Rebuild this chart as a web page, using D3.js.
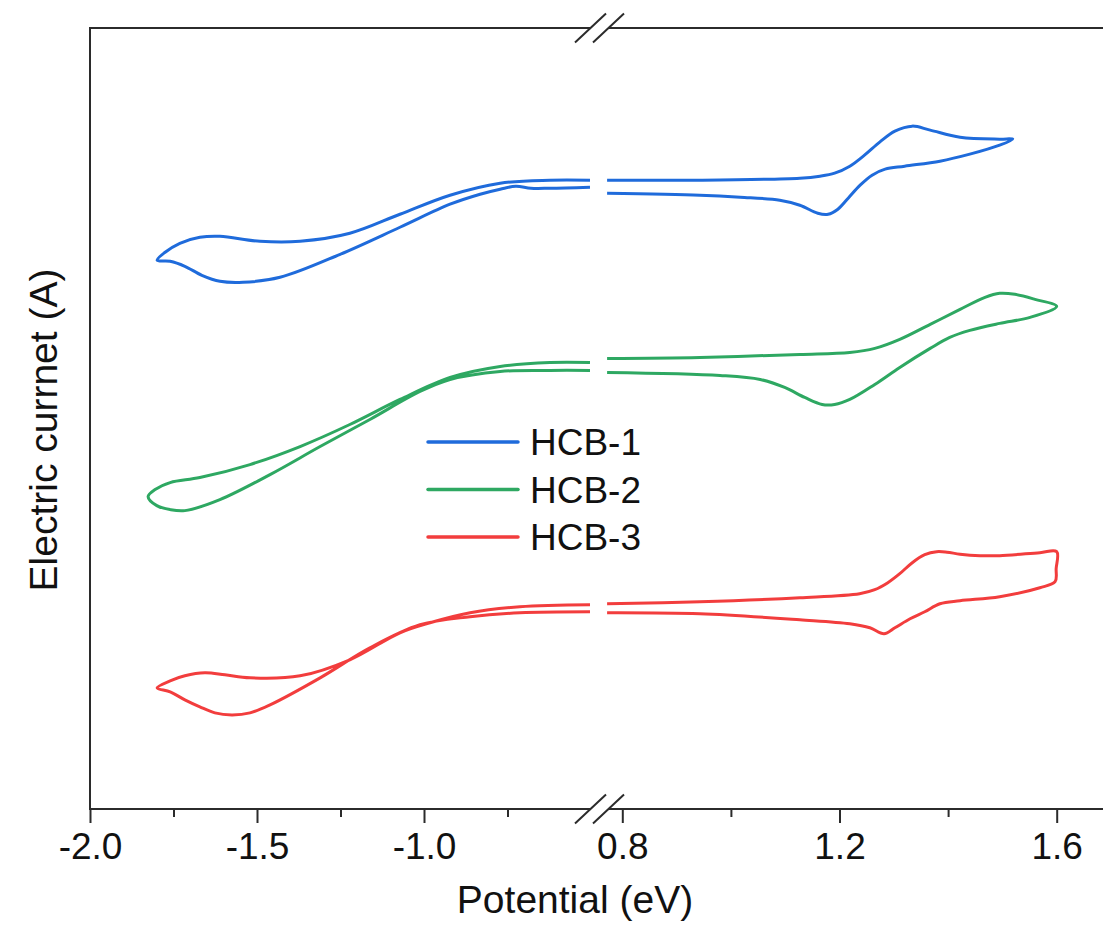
<!DOCTYPE html>
<html>
<head>
<meta charset="utf-8">
<script src="https://cdn.jsdelivr.net/npm/d3@7/dist/d3.min.js"></script>
<style>
  html, body { margin: 0; padding: 0; background: #fff; }
  svg { display: block; font-family: "Liberation Sans", Arial, sans-serif; }
</style>
</head>
<body>
<svg id="chart" width="1103" height="927"></svg>
<script>
// Cyclic voltammograms, potential (eV) vs current (a.u.), each loop split by the axis break.
const seriesNames = ["HCB-1", "HCB-2", "HCB-3"];
const seriesColors = ["#1f6bdb", "#2ea862", "#f23d3d"];

// Negative-potential window: break end -> turning point -> break end
const hcb1Low = [[-0.503,6.28],[-0.623,6.28],[-0.772,6.25],[-0.922,6.13],[-1.072,5.94],[-1.222,5.75],[-1.371,5.67],[-1.491,5.67],[-1.611,5.72],[-1.671,5.71],[-1.731,5.65],[-1.775,5.56],[-1.799,5.48],[-1.760,5.47],[-1.716,5.42],[-1.665,5.33],[-1.611,5.27],[-1.542,5.26],[-1.431,5.31],[-1.251,5.54],[-1.072,5.81],[-0.922,6.04],[-0.832,6.14],[-0.772,6.19],[-0.725,6.22],[-0.680,6.20],[-0.623,6.20],[-0.503,6.21]];
const hcb2Low = [[-0.503,4.46],[-0.623,4.46],[-0.772,4.42],[-0.922,4.31],[-1.072,4.09],[-1.222,3.84],[-1.371,3.62],[-1.521,3.44],[-1.671,3.31],[-1.760,3.26],[-1.805,3.19],[-1.826,3.12],[-1.800,3.03],[-1.760,2.99],[-1.716,2.98],[-1.611,3.09],[-1.461,3.34],[-1.311,3.62],[-1.162,3.89],[-1.012,4.17],[-0.922,4.29],[-0.772,4.37],[-0.623,4.38],[-0.503,4.38]];
const hcb3Low = [[-0.503,2.04],[-0.713,2.02],[-0.862,1.96],[-0.982,1.86],[-1.072,1.76],[-1.222,1.49],[-1.371,1.33],[-1.521,1.31],[-1.596,1.34],[-1.656,1.36],[-1.716,1.33],[-1.760,1.28],[-1.799,1.21],[-1.760,1.17],[-1.716,1.09],[-1.671,1.02],[-1.626,0.96],[-1.575,0.94],[-1.521,0.96],[-1.461,1.04],[-1.311,1.31],[-1.162,1.61],[-1.012,1.84],[-0.862,1.92],[-0.713,1.96],[-0.503,1.97]];

// Positive-potential window
const hcb1High = [[0.772,6.28],[0.943,6.28],[1.127,6.30],[1.164,6.32],[1.191,6.35],[1.219,6.42],[1.246,6.53],[1.274,6.66],[1.302,6.77],[1.334,6.82],[1.367,6.78],[1.422,6.71],[1.495,6.69],[1.519,6.69],[1.495,6.63],[1.440,6.54],[1.385,6.47],[1.320,6.42],[1.284,6.39],[1.260,6.33],[1.238,6.23],[1.216,6.10],[1.197,5.99],[1.179,5.94],[1.160,5.95],[1.127,6.03],[1.090,6.08],[1.017,6.11],[0.943,6.13],[0.772,6.15]];
const hcb2High = [[0.772,4.50],[0.943,4.51],[1.127,4.54],[1.219,4.56],[1.265,4.60],[1.311,4.69],[1.367,4.84],[1.422,4.99],[1.468,5.11],[1.495,5.15],[1.523,5.14],[1.560,5.09],[1.600,5.02],[1.551,4.91],[1.495,4.85],[1.440,4.78],[1.403,4.71],[1.367,4.60],[1.311,4.41],[1.265,4.24],[1.219,4.09],[1.191,4.04],[1.168,4.04],[1.136,4.11],[1.099,4.21],[1.054,4.29],[0.980,4.33],[0.772,4.36]];
const hcb3High = [[0.772,2.05],[0.943,2.07],[1.127,2.11],[1.237,2.15],[1.265,2.19],[1.289,2.26],[1.311,2.35],[1.334,2.46],[1.357,2.54],[1.379,2.57],[1.398,2.565],[1.422,2.545],[1.459,2.53],[1.495,2.53],[1.569,2.56],[1.600,2.57],[1.599,2.40],[1.597,2.27],[1.569,2.21],[1.495,2.12],[1.422,2.08],[1.385,2.05],[1.357,1.97],[1.330,1.90],[1.302,1.81],[1.282,1.75],[1.256,1.81],[1.219,1.85],[1.127,1.89],[0.943,1.95],[0.772,1.96]];

const lowMajorTicks = [-2.0, -1.5, -1.0];
const lowMinorTicks = [-1.75, -1.25, -0.75];
const highMajorTicks = [0.8, 1.2, 1.6];
const highMinorTicks = [1.0, 1.4];

const lowSeries = [hcb1Low, hcb2Low, hcb3Low];
const highSeries = [hcb1High, hcb2High, hcb3High];

const svg = d3.select("#chart");
svg.append("rect").attr("width", 1103).attr("height", 927).attr("fill", "#fff");

const plotTop = 28, plotBottom = 809, plotLeft = 90, plotRight = 1103;
const breakA = 590.5, breakB = 608.5;

const xLow = d3.scaleLinear().domain([-2.0, -0.5]).range([plotLeft, 591]);
const xHigh = d3.scaleLinear().domain([0.8, 1.6]).range([622.3, 1056.7]);
const y = d3.scaleLinear().domain([0, 7.8]).range([plotBottom, plotTop]);

const axisColor = "#2b2b2b";
const fmt = d => d.toFixed(1);

// Curves
function drawSeg(data, xs, color) {
  const line = d3.line().x(d => xs(d[0])).y(d => y(d[1])).curve(d3.curveCatmullRom.alpha(0.5));
  svg.append("path").attr("d", line(data)).attr("fill", "none")
    .attr("stroke", color).attr("stroke-width", 3).attr("stroke-linejoin", "round").attr("stroke-linecap", "butt");
}
lowSeries.forEach((s, i) => drawSeg(s, xLow, seriesColors[i]));
highSeries.forEach((s, i) => drawSeg(s, xHigh, seriesColors[i]));

// Axis frame pieces
const frame = svg.append("g").attr("stroke", axisColor).attr("stroke-width", 2).attr("fill", "none");
frame.append("line").attr("x1", plotLeft).attr("x2", plotLeft).attr("y1", plotTop - 1).attr("y2", plotBottom + 1);
[plotTop, plotBottom].forEach(yy => {
  frame.append("line").attr("x1", plotLeft).attr("x2", breakA).attr("y1", yy).attr("y2", yy);
  frame.append("line").attr("x1", breakB).attr("x2", plotRight).attr("y1", yy).attr("y2", yy);
  [breakA, breakB].forEach(bx => {
    frame.append("line").attr("x1", bx - 15.5).attr("y1", yy + 14.5).attr("x2", bx + 15.5).attr("y2", yy - 14.5)
      .attr("stroke-width", 2);
  });
});

// Bottom axes on both sides of the break
function bottomAxis(scale, majors, minors) {
  const gMaj = svg.append("g").attr("transform", `translate(0,${plotBottom})`)
    .call(d3.axisBottom(scale).tickValues(majors).tickFormat(fmt).tickSize(14).tickSizeOuter(0).tickPadding(10));
  gMaj.select(".domain").remove();
  gMaj.selectAll(".tick line").attr("stroke", axisColor).attr("stroke-width", 2);
  gMaj.selectAll(".tick text").attr("fill", "#111").attr("font-size", 37)
    .attr("font-family", "'Liberation Sans', Arial, sans-serif");
  const gMin = svg.append("g").attr("transform", `translate(0,${plotBottom})`)
    .call(d3.axisBottom(scale).tickValues(minors).tickFormat("").tickSize(8).tickSizeOuter(0));
  gMin.select(".domain").remove();
  gMin.selectAll(".tick line").attr("stroke", axisColor).attr("stroke-width", 2);
}
bottomAxis(xLow, lowMajorTicks, lowMinorTicks);
bottomAxis(xHigh, highMajorTicks, highMinorTicks);

// Axis titles
svg.append("text").attr("x", 575).attr("y", 913).attr("text-anchor", "middle")
  .attr("font-size", 39).attr("fill", "#111").text("Potential (eV)");
svg.append("text").attr("transform", "translate(57,430) rotate(-90)").attr("text-anchor", "middle")
  .attr("font-size", 39).attr("fill", "#111").text("Electric currnet (A)");

// Legend
const legend = svg.append("g");
seriesNames.forEach((name, i) => {
  const ly = 442 + i * 47.5;
  legend.append("line").attr("x1", 428).attr("x2", 518).attr("y1", ly).attr("y2", ly)
    .attr("stroke", seriesColors[i]).attr("stroke-width", 3.5).attr("stroke-linecap", "round");
  legend.append("text").attr("x", 530).attr("y", ly + 13).attr("font-size", 37).attr("fill", "#111").text(name);
});
</script>
</body>
</html>
